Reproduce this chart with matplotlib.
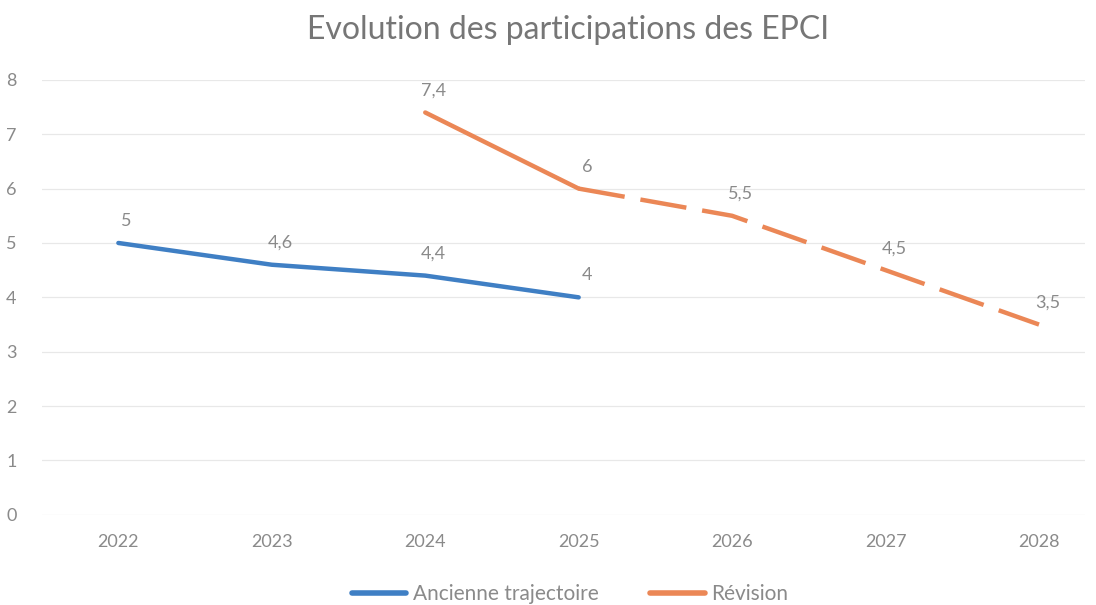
import numpy as np
from matplotlib import pyplot as plt
from matplotlib.lines import Line2D

years = ['2022', '2023', '2024', '2025', '2026', '2027', '2028']
ancienne = [5, 4.6, 4.4, 4, np.nan, np.nan, np.nan]
revision = [np.nan, np.nan, 7.4, 6, 5.5, 4.5, 3.5]
revision_split = 3  # solid up to 2025, dashed after

blue = '#3f7fc4'
orange = '#eb8756'
grey = '#8a8a8a'

plt.rcParams['font.family'] = ['Lato', 'DejaVu Sans']

fig = plt.figure(figsize=(10.96, 6.05), dpi=100)
ax = fig.add_axes([0.038, 0.149, 0.952, 0.719])

x = np.arange(len(years))
ax.plot(x, ancienne, color=blue, lw=3.2, solid_capstyle='round')
ax.plot(x[:revision_split + 1], revision[:revision_split + 1], color=orange, lw=3.2,
        solid_capstyle='round')
ax.plot(x[revision_split:], revision[revision_split:], color=orange, lw=3.2,
        dashes=(10.5, 3.6), dash_capstyle='butt')

def fmt(v):
    s = f'{v:g}'
    return s.replace('.', ',')

for serie in (ancienne, revision):
    for xi, v in zip(x, serie):
        if np.isnan(v):
            continue
        ax.annotate(fmt(v), (xi, v), xytext=(6, 10), textcoords='offset points',
                    ha='center', va='bottom', fontsize=13, color=grey)

ax.set_xlim(-0.5, 6.3)
ax.set_ylim(0, 8)
ax.set_yticks(range(0, 9))
ax.set_xticks(x)
ax.set_xticklabels(years)
ax.tick_params(length=0, labelsize=13, colors=grey)
ax.tick_params(axis='x', pad=14)
ax.tick_params(axis='y', pad=18)
for s in ax.spines.values():
    s.set_visible(False)
ax.grid(axis='y', color='#e8e8e8', lw=0.9)
ax.set_axisbelow(True)

fig.suptitle('Evolution des participations des EPCI', x=0.518, y=0.975, fontsize=23,
             color='#767676')

handles = [Line2D([], [], color=blue, lw=4, solid_capstyle='round'),
           Line2D([], [], color=orange, lw=4, solid_capstyle='round')]
fig.legend(handles, ['Ancienne trajectoire', 'Révision'], loc='lower center',
           bbox_to_anchor=(0.52, -0.03), ncol=2, frameon=False, fontsize=15,
           labelcolor=grey, handlelength=2.6, handletextpad=0.3, columnspacing=2.5)

fig.savefig('out.png', dpi=100)
